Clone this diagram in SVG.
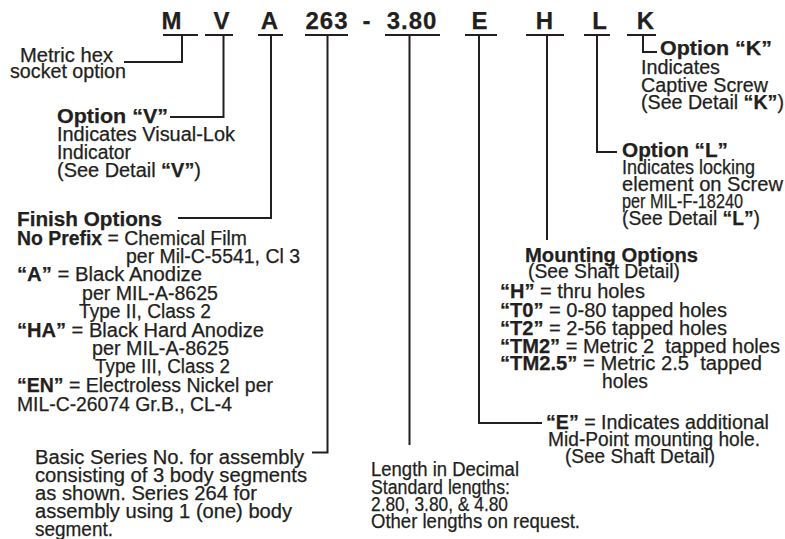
<svg xmlns="http://www.w3.org/2000/svg" width="785" height="539" viewBox="0 0 785 539">
<style>
text{font-family:"Liberation Sans",Arial,Helvetica,sans-serif;fill:#231f20;white-space:pre;stroke:#231f20;stroke-width:0.25}
.t{font-size:19.5px}
.b{font-weight:bold}
.hd{font-size:20px;font-weight:bold}
.h{font-size:24px;font-weight:bold;letter-spacing:1px;text-anchor:middle}
.ul{stroke:#231f20;stroke-width:2}
.ln{fill:none;stroke:#231f20;stroke-width:2}
</style>
<rect width="785" height="539" fill="#ffffff"/>
<g id="code">
<g id="seg-M"><text class="h" x="172" y="29">M</text><line class="ul" x1="163" y1="35" x2="198" y2="35"/></g>
<g id="seg-V"><text class="h" x="222" y="29">V</text><line class="ul" x1="205" y1="35" x2="233" y2="35"/></g>
<g id="seg-A"><text class="h" x="270" y="29">A</text><line class="ul" x1="258" y1="35" x2="283" y2="35"/></g>
<g id="seg-263"><text class="h" x="327" y="29">263</text><line class="ul" x1="305" y1="35" x2="348" y2="35"/></g>
<g id="seg-dash"><text class="h" x="367" y="29">-</text></g>
<g id="seg-380"><text class="h" x="412" y="29">3.80</text><line class="ul" x1="385" y1="35" x2="440" y2="35"/></g>
<g id="seg-E"><text class="h" x="480" y="29">E</text><line class="ul" x1="465" y1="35" x2="497" y2="35"/></g>
<g id="seg-H"><text class="h" x="545" y="29">H</text><line class="ul" x1="526" y1="35" x2="564" y2="35"/></g>
<g id="seg-L"><text class="h" x="600" y="29">L</text><line class="ul" x1="584" y1="35" x2="610" y2="35"/></g>
<g id="seg-K"><text class="h" x="646" y="29">K</text><line class="ul" x1="627" y1="35" x2="656" y2="35"/></g>
</g>
<g id="connectors">
<path class="ln" d="M182,35 V62 H124"/>
<path class="ln" d="M223.5,35 V117 H170"/>
<path class="ln" d="M271,35 V218 H178"/>
<path class="ln" d="M327.5,35 V452.5 H312"/>
<path class="ln" d="M409.5,35 V445"/>
<path class="ln" d="M479,35 V423 H542"/>
<path class="ln" d="M547,35 V240"/>
<path class="ln" d="M597,35 V152 H617"/>
<path class="ln" d="M643,35 V52 H657"/>
</g>
<g id="metric">
<text class="t" x="20" y="62" textLength="93" lengthAdjust="spacingAndGlyphs">Metric hex</text>
<text class="t" x="10" y="78" textLength="116" lengthAdjust="spacingAndGlyphs">socket option</text>
</g>
<g id="optV">
<text class="hd" x="57" y="123" textLength="111" lengthAdjust="spacingAndGlyphs">Option “V”</text>
<text class="t" x="57" y="141" textLength="178" lengthAdjust="spacingAndGlyphs">Indicates Visual-Lok</text>
<text class="t" x="57" y="159" textLength="74" lengthAdjust="spacingAndGlyphs">Indicator</text>
<text class="t" x="57" y="177" textLength="144" lengthAdjust="spacingAndGlyphs">(See Detail <tspan class="b">“V”</tspan>)</text>
</g>
<g id="finish">
<text class="hd" x="17" y="226" textLength="145" lengthAdjust="spacingAndGlyphs">Finish Options</text>
<text class="t" x="17" y="245" textLength="230" lengthAdjust="spacingAndGlyphs"><tspan class="b">No Prefix</tspan> = Chemical Film</text>
<text class="t" x="126" y="263" textLength="174" lengthAdjust="spacingAndGlyphs">per Mil-C-5541, Cl 3</text>
<text class="t" x="17" y="281" textLength="185" lengthAdjust="spacingAndGlyphs"><tspan class="b">“A”</tspan> = Black Anodize</text>
<text class="t" x="82" y="300" textLength="136" lengthAdjust="spacingAndGlyphs">per MIL-A-8625</text>
<text class="t" x="79" y="318" textLength="132" lengthAdjust="spacingAndGlyphs">Type II, Class 2</text>
<text class="t" x="17" y="337" textLength="247" lengthAdjust="spacingAndGlyphs"><tspan class="b">“HA”</tspan> = Black Hard Anodize</text>
<text class="t" x="92" y="355" textLength="137" lengthAdjust="spacingAndGlyphs">per MIL-A-8625</text>
<text class="t" x="95" y="373" textLength="135" lengthAdjust="spacingAndGlyphs">Type III, Class 2</text>
<text class="t" x="17" y="392" textLength="256" lengthAdjust="spacingAndGlyphs"><tspan class="b">“EN”</tspan> = Electroless Nickel per</text>
<text class="t" x="17" y="411" textLength="215" lengthAdjust="spacingAndGlyphs">MIL-C-26074 Gr.B., CL-4</text>
</g>
<g id="series">
<text class="t" x="35" y="464" textLength="269" lengthAdjust="spacingAndGlyphs">Basic Series No. for assembly</text>
<text class="t" x="35" y="482" textLength="272" lengthAdjust="spacingAndGlyphs">consisting of 3 body segments</text>
<text class="t" x="35" y="500" textLength="222" lengthAdjust="spacingAndGlyphs">as shown. Series 264 for</text>
<text class="t" x="35" y="518" textLength="257" lengthAdjust="spacingAndGlyphs">assembly using 1 (one) body</text>
<text class="t" x="35" y="536" textLength="78" lengthAdjust="spacingAndGlyphs">segment.</text>
</g>
<g id="length">
<text class="t" x="371" y="476" textLength="148" lengthAdjust="spacingAndGlyphs">Length in Decimal</text>
<text class="t" x="371" y="494" textLength="139" lengthAdjust="spacingAndGlyphs">Standard lengths:</text>
<text class="t" x="371" y="511" textLength="137" lengthAdjust="spacingAndGlyphs">2.80, 3.80, &amp; 4.80</text>
<text class="t" x="371" y="528" textLength="209" lengthAdjust="spacingAndGlyphs">Other lengths on request.</text>
</g>
<g id="optE">
<text class="t" x="546" y="429" textLength="223" lengthAdjust="spacingAndGlyphs"><tspan class="b">“E”</tspan> = Indicates additional</text>
<text class="t" x="548" y="446" textLength="212" lengthAdjust="spacingAndGlyphs">Mid-Point mounting hole.</text>
<text class="t" x="565" y="463" textLength="150" lengthAdjust="spacingAndGlyphs">(See Shaft Detail)</text>
</g>
<g id="mount">
<text class="hd" x="525" y="262" textLength="173" lengthAdjust="spacingAndGlyphs">Mounting Options</text>
<text class="t" x="528" y="278" textLength="152" lengthAdjust="spacingAndGlyphs">(See Shaft Detail)</text>
<text class="t" x="500" y="298" textLength="145" lengthAdjust="spacingAndGlyphs"><tspan class="b">“H”</tspan> = thru holes</text>
<text class="t" x="500" y="317" textLength="227" lengthAdjust="spacingAndGlyphs"><tspan class="b">“T0”</tspan> = 0-80 tapped holes</text>
<text class="t" x="500" y="335" textLength="227" lengthAdjust="spacingAndGlyphs"><tspan class="b">“T2”</tspan> = 2-56 tapped holes</text>
<text class="t" x="500" y="353" textLength="280" lengthAdjust="spacingAndGlyphs"><tspan class="b">“TM2”</tspan> = Metric 2  tapped holes</text>
<text class="t" x="500" y="370" textLength="262" lengthAdjust="spacingAndGlyphs"><tspan class="b">“TM2.5”</tspan> = Metric 2.5  tapped</text>
<text class="t" x="602" y="388" textLength="46" lengthAdjust="spacingAndGlyphs">holes</text>
</g>
<g id="optL">
<text class="hd" x="622" y="157" textLength="106" lengthAdjust="spacingAndGlyphs">Option “L”</text>
<text class="t" x="622" y="174" textLength="133" lengthAdjust="spacingAndGlyphs">Indicates locking</text>
<text class="t" x="622" y="191" textLength="161" lengthAdjust="spacingAndGlyphs">element on Screw</text>
<text class="t" x="622" y="208" textLength="121" lengthAdjust="spacingAndGlyphs">per MIL-F-18240</text>
<text class="t" x="622" y="225" textLength="138" lengthAdjust="spacingAndGlyphs">(See Detail <tspan class="b">“L”</tspan>)</text>
</g>
<g id="optK">
<text class="hd" x="660" y="55" textLength="112" lengthAdjust="spacingAndGlyphs">Option “K”</text>
<text class="t" x="641" y="74" textLength="79" lengthAdjust="spacingAndGlyphs">Indicates</text>
<text class="t" x="641" y="91.5" textLength="127" lengthAdjust="spacingAndGlyphs">Captive Screw</text>
<text class="t" x="641" y="109" textLength="143" lengthAdjust="spacingAndGlyphs">(See Detail <tspan class="b">“K”</tspan>)</text>
</g>
</svg>
